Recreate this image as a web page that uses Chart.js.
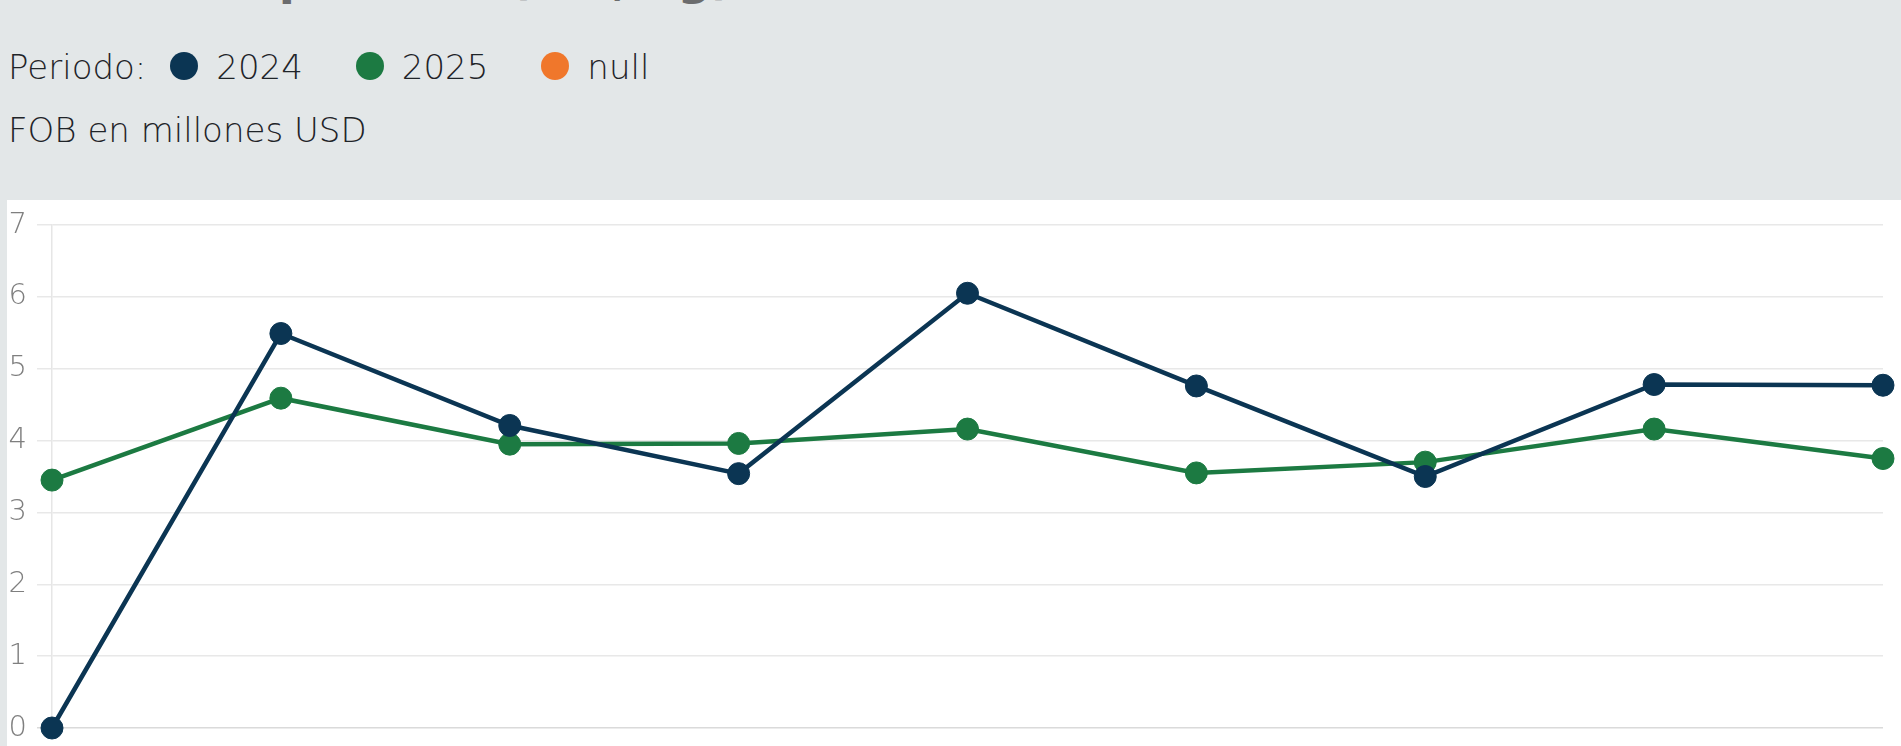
<!DOCTYPE html>
<html>
<head>
<meta charset="utf-8">
<script src="https://cdn.jsdelivr.net/npm/chart.js@4/dist/chart.umd.min.js"></script>
<style>
  html, body {
    margin: 0;
    padding: 0;
    width: 1901px;
    height: 746px;
    overflow: hidden;
    background: #e3e7e8;
    font-family: "DejaVu Sans", sans-serif;
  }
  .titulo {
    position: absolute;
    left: 8px;
    top: -46px;
    font-size: 47px;
    line-height: 47px;
    font-weight: bold;
    color: #6b6c6d;
    white-space: nowrap;
  }
  .leyenda {
    position: absolute;
    left: 8px;
    top: 50px;
    height: 34px;
    display: flex;
    align-items: center;
    font-size: 34px;
    line-height: 34px;
    font-weight: 200;
    color: #1f2428;
    white-space: nowrap;
  }
  .leyenda .item {
    display: flex;
    align-items: center;
    margin-left: 24px;
  }
  .leyenda .item + .item {
    margin-left: 53px;
  }
  .leyenda .punto {
    width: 28px;
    height: 28px;
    border-radius: 50%;
    margin-right: 18px;
    position: relative;
    top: -1px;
  }
  .unidad {
    position: absolute;
    left: 8px;
    top: 113px;
    font-size: 34px;
    line-height: 34px;
    font-weight: 200;
    color: #1f2428;
    white-space: nowrap;
  }
  .panel {
    position: absolute;
    left: 7px;
    top: 200px;
    width: 1894px;
    height: 546px;
    background: #ffffff;
  }
</style>
</head>
<body>
<div class="titulo">Evolución por mes (mil, kg)</div>
<div class="leyenda" id="leyenda"><span>Periodo:</span></div>
<div class="unidad">FOB en millones USD</div>
<div class="panel"><canvas id="grafico" width="1894" height="546"></canvas></div>

<script>
// datos
const meses = ["Ene", "Feb", "Mar", "Abr", "May", "Jun", "Jul", "Ago", "Sep"];
const valores2024 = [0, 5.49, 4.21, 3.54, 6.05, 4.76, 3.5, 4.78, 4.77];
const valores2025 = [3.45, 4.59, 3.95, 3.96, 4.16, 3.55, 3.7, 4.16, 3.75];
const valoresNull = [];
const ticksY = [0, 1, 2, 3, 4, 5, 6, 7];

const series = [
  { nombre: "2024", color: "#0b3553", datos: valores2024 },
  { nombre: "2025", color: "#1c7a42", datos: valores2025 },
  { nombre: "null", color: "#f0772b", datos: valoresNull },
];

const leyenda = document.getElementById("leyenda");
for (const serie of series) {
  const item = document.createElement("span");
  item.className = "item";
  item.innerHTML =
    '<span class="punto" style="background:' + serie.color + '"></span>' + serie.nombre;
  leyenda.appendChild(item);
}

const datasets = series.map(function (serie) {
  return {
    label: serie.nombre,
    data: serie.datos,
    borderColor: serie.color,
    backgroundColor: serie.color,
    borderWidth: 4.5,
    pointRadius: 11,
    pointHoverRadius: 11,
    pointBorderWidth: 1,
    tension: 0,
    clip: false,
  };
});

new Chart(document.getElementById("grafico"), {
  type: "line",
  data: {
    labels: meses,
    datasets: datasets,
  },
  options: {
    responsive: false,
    animation: false,
    layout: {
      padding: { top: 25, right: 18, bottom: 18, left: 0 },
    },
    plugins: {
      legend: { display: false },
      tooltip: { enabled: false },
    },
    scales: {
      x: {
        display: false,
      },
      y: {
        min: ticksY[0],
        max: ticksY[ticksY.length - 1],
        afterBuildTicks: function (scale) {
          scale.ticks = ticksY.map(function (v) { return { value: v }; });
        },
        afterFit: function (scale) {
          scale.width = 45;
          scale.paddingTop = 0;
          scale.paddingBottom = 0;
        },
        border: { display: true, color: "#e6e6e6", width: 1.5 },
        grid: {
          color: function (ctx) {
            return ctx.tick && ctx.tick.value === 0 ? "#dadada" : "#e8e8e8";
          },
          lineWidth: 1.5,
          tickLength: 15,
        },
        ticks: {
          color: "#7f7f7f",
          padding: 10,
          font: { family: "DejaVu Sans", size: 29, weight: "200", lineHeight: 0.6 },
        },
      },
    },
  },
});
</script>
</body>
</html>
